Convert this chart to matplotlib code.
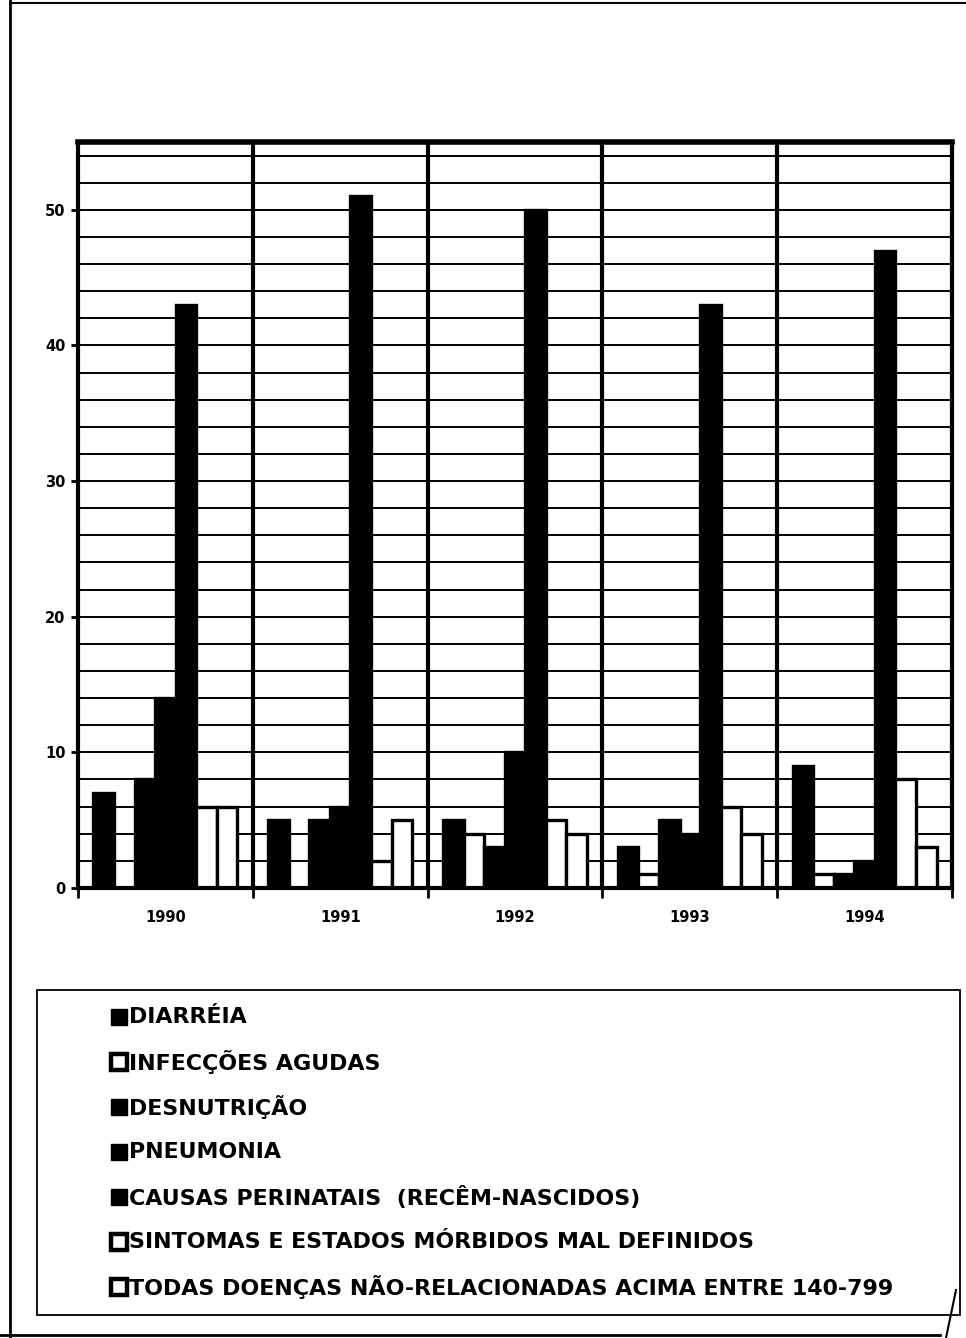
"""Mortalidade infantil por grupo de causas, 1990-1994 (%)."""
import numpy as np
import matplotlib

matplotlib.use("Agg")
import matplotlib.pyplot as plt
from matplotlib.lines import Line2D
from matplotlib.patches import Rectangle

plt.rcParams["font.family"] = ["DejaVu Sans"]

anos = ["1990", "1991", "1992", "1993", "1994"]
diarreia = [7, 5, 5, 3, 9]
infeccoes = [0, 0, 4, 1, 1]
desnutricao = [8, 5, 3, 5, 1]
pneumonia = [14, 6, 10, 4, 2]
perinatais = [43, 51, 50, 43, 47]
sintomas = [6, 2, 5, 6, 8]
outras = [6, 5, 4, 4, 3]

rotulos = [
    "DIARRÉIA",
    "INFECÇÕES AGUDAS",
    "DESNUTRIÇÃO",
    "PNEUMONIA",
    "CAUSAS PERINATAIS  (RECÊM-NASCIDOS)",
    "SINTOMAS E ESTADOS MÓRBIDOS MAL DEFINIDOS",
    "TODAS DOENÇAS NÃO-RELACIONADAS ACIMA ENTRE 140-799",
]
series = [diarreia, infeccoes, desnutricao, pneumonia, perinatais, sintomas, outras]
preenchido = [True, False, True, True, True, False, False]

W, H = 966, 1338
fig = plt.figure(figsize=(W / 100, H / 100), dpi=100)


def fx(px):
    return px / W


def fy(py):
    return 1 - py / H


ax = fig.add_axes([fx(78), fy(888), fx(952) - fx(78), fy(142) - fy(888)])

x = np.arange(len(anos))
n = len(series)
larg = 1 / 8.5
for k, (vals, cheio) in enumerate(zip(series, preenchido)):
    ax.bar(x + (k - (n - 1) / 2) * larg, vals, width=larg,
           color="black" if cheio else "white", edgecolor="black",
           linewidth=2.4, zorder=3)

# grade horizontal a cada 2 unidades e divisórias entre os anos
for v in range(2, 55, 2):
    ax.axhline(v, color="black", lw=1.4, zorder=1)
for b in np.arange(0.5, len(anos) - 1, 1):
    ax.axvline(b, color="black", lw=3, zorder=4)

ax.set_xlim(-0.5, len(anos) - 0.5)
ax.set_ylim(0, 55)
ax.set_yticks(range(0, 51, 10))
ax.set_yticklabels([str(v) for v in range(0, 51, 10)], fontsize=10.5, fontweight="bold")
ax.set_xticks(x)
ax.set_xticklabels(anos, fontsize=10.5, fontweight="bold")
ax.set_xticks(np.arange(-0.5, len(anos), 1), minor=True)
ax.tick_params(axis="x", which="major", length=0, pad=16)
ax.tick_params(axis="x", which="minor", length=7, width=2, direction="out")
ax.tick_params(axis="y", length=5, width=2, direction="out", pad=4)
for s in ["left", "right", "bottom"]:
    ax.spines[s].set_linewidth(3)
ax.spines["top"].set_linewidth(4)
for s in ax.spines.values():
    s.set_zorder(5)

# legenda desenhada na parte de baixo
fig.add_artist(Rectangle((fx(37), fy(1315)), fx(960) - fx(37), fy(990) - fy(1315),
                         transform=fig.transFigure, fill=False, ec="black", lw=1.3))
for i, (rot, cheio) in enumerate(zip(rotulos, preenchido)):
    yc = 1017 + 45 * i
    fig.add_artist(Rectangle((fx(111), fy(yc + 8)), fx(16), fy(yc - 8) - fy(yc + 8),
                             transform=fig.transFigure,
                             fc="black" if cheio else "white", ec="black",
                             lw=1 if cheio else 3.2))
    fig.text(fx(129), fy(yc), rot, fontsize=15.9, fontweight="bold", va="center", ha="left")

# moldura da página
fig.add_artist(Line2D([fx(10), fx(10)], [fy(0), fy(1338)], color="black", lw=2,
                      transform=fig.transFigure))
fig.add_artist(Line2D([fx(10), fx(966)], [fy(3), fy(3)], color="black", lw=1.5,
                      transform=fig.transFigure))
fig.add_artist(Line2D([fx(0), fx(940)], [fy(1335), fy(1335)], color="black", lw=2,
                      transform=fig.transFigure))
fig.add_artist(Line2D([fx(946), fx(956)], [fy(1338), fy(1290)], color="black", lw=1.5,
                      transform=fig.transFigure))

fig.savefig("out.png", dpi=100)
